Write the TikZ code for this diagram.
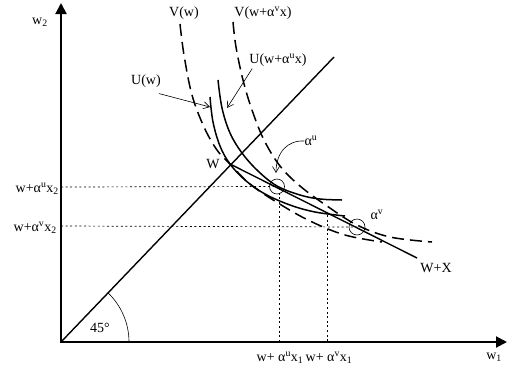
\documentclass[tikz,border=0pt]{standalone}
\usepackage{fontspec}
\setmainfont{Liberation Serif}
\usetikzlibrary{arrows.meta}
\begin{document}
\begin{tikzpicture}[x=1pt,y=-1pt,
  lbl/.style={font=\fontsize{14}{16}\selectfont, inner sep=0pt},
  axisline/.style={line width=2pt, {Triangle[length=11pt,width=11pt]}-{Triangle[length=11pt,width=11pt]}},
  ucurve/.style={line width=1.5pt},
  vcurve/.style={line width=1.5pt, dash pattern=on 12pt off 6pt},
  guide/.style={line width=0.7pt, dash pattern=on 2pt off 2.6pt},
  pointer/.style={line width=0.6pt, -{Straight Barb[length=6pt,width=7pt]}},
  ring/.style={circle, draw, line width=0.6pt, inner sep=0pt},
]
\useasboundingbox (0,0) rectangle (519,386);

% axes
\coordinate (O) at (61,342);
\coordinate (Ytop) at (61,3);
\coordinate (Xend) at (507,342);
\draw[axisline] (Ytop) -- (O) -- (Xend);
\node[lbl] (w2) at (40,22) {w\textsubscript{2}};
\node[lbl] (w1) at (494,357) {w\textsubscript{1}};

% 45 degree line
\coordinate (D) at (334,57);
\draw[line width=1.4pt] (O) -- (D);
\draw[line width=0.6pt] (O) ++(68,0) arc[start angle=0, end angle=-46, radius=68];
\node[lbl] (deg) at (100,328) {45°};

% points
\coordinate (W) at (230,164);
\coordinate (WX) at (417,258);
\node[ring, minimum size=15pt] (cu) at (277,186.5) {};
\node[ring, minimum size=16pt] (cv) at (357,227) {};

% dotted guides
\coordinate (hu) at (61,187);
\coordinate (hv) at (61,226);
\draw[guide] (hu) -- (cu.center);
\draw[guide] (hv) -- (cv.center);
\coordinate (vu1) at (279,188);
\coordinate (vu2) at (279,342);
\coordinate (vv1) at (327,215);
\coordinate (vv2) at (327,342);
\draw[guide] (vu1) -- (vu2);
\draw[guide] (vv1) -- (vv2);

% budget line
\draw[line width=1.4pt] (W) -- (WX);
\node[lbl] (wxl) at (436,268) {W+X};
\node[lbl] (wl) at (213,164) {W};

% U curves (solid)
\draw[ucurve] plot[smooth, tension=0.6] coordinates {(210,97) (213,122) (220,146) (230,164) (245,180) (265,194) (290,205) (315,212) (345,216)};
\draw[ucurve] plot[smooth, tension=0.6] coordinates {(218,80) (222,108) (230,133) (242,153) (258,171) (277,186) (300,195) (320,199) (342,200)};

% V curves (dashed)
\draw[vcurve] plot[smooth, tension=0.6] coordinates {(180,24) (184,55) (192,95) (204,127) (217,150) (230,164) (250,184) (278,203) (310,221) (345,235) (382,242)};
\draw[vcurve] plot[smooth, tension=0.6] coordinates {(233,22) (236,47) (243,80) (252,110) (264,140) (280,166) (300,186) (327,206) (357,225) (390,237) (432,242)};

% labels
\node[lbl] (vw) at (184,13) {V(w)};
\node[lbl] (vwa) at (263,13) {V(w+α\textsuperscript{v}x)};
\node[lbl] (uwa) at (278,60) {U(w+α\textsuperscript{u}x)};
\node[lbl] (uw) at (146,81) {U(w)};
\node[lbl] (au) at (311,141) {α\textsuperscript{u}};
\node[lbl] (av) at (377,215) {α\textsuperscript{v}};

\node[lbl, anchor=east] (lu2) at (59,189) {w+α\textsuperscript{u}x\textsubscript{2}};
\node[lbl, anchor=east] (lv2) at (57,228) {w+α\textsuperscript{v}x\textsubscript{2}};
\node[lbl] (lu1) at (280,358) {w+ α\textsuperscript{u}x\textsubscript{1}};
\node[lbl] (lv1) at (329,358) {w+ α\textsuperscript{v}x\textsubscript{1}};

% pointers
\coordinate (uwtip) at (210,107);
\coordinate (uwatip) at (227,108);
\coordinate (autip) at (276,173);
\draw[pointer] (uw.south east) ++(-2,6) -- (uwtip);
\draw[pointer] (uwa.south west) ++(3,2) -- (uwatip);
\draw[pointer] (au.west) .. controls (288,140) and (276,152) .. (autip);
\end{tikzpicture}
\end{document}
